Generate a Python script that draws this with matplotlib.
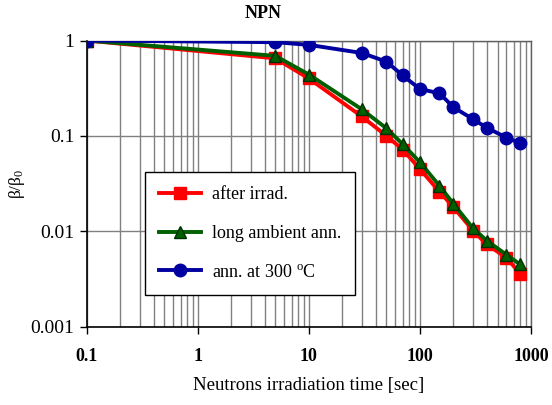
import matplotlib
matplotlib.use("Agg")
import matplotlib.pyplot as plt
from matplotlib.ticker import FixedLocator, LogLocator, NullFormatter

plt.rcParams['font.family'] = ['Liberation Serif', 'DejaVu Serif']
plt.rcParams['mathtext.fontset'] = 'custom'
plt.rcParams['mathtext.rm'] = 'Liberation Serif'
plt.rcParams['mathtext.it'] = 'Liberation Serif:italic'

time_s = [0.1, 5, 10, 30, 50, 70, 100, 150, 200, 300, 400, 600, 800]
after_irrad = [1.0, 0.65, 0.40, 0.16, 0.10, 0.072, 0.045, 0.026, 0.018, 0.0102, 0.0073, 0.0053, 0.0036]
long_ambient = [1.0, 0.69, 0.44, 0.19, 0.12, 0.082, 0.053, 0.030, 0.0195, 0.0108, 0.0080, 0.0057, 0.0045]
ann_300 = [1.0, 0.96, 0.90, 0.74, 0.60, 0.43, 0.31, 0.28, 0.20, 0.15, 0.122, 0.096, 0.084]

series_labels = ["after irrad.", "long ambient ann.", "ann. at 300 $^{\\mathrm{o}}$C"]
x_ticks = [0.1, 1, 10, 100, 1000]
x_ticklabels = ["0.1", "1", "10", "100", "1000"]
y_ticks = [0.001, 0.01, 0.1, 1]
y_ticklabels = ["0.001", "0.01", "0.1", "1"]

fig = plt.figure(figsize=(5.52, 4.05), dpi=100)
ax = fig.add_axes([0.157, 0.193, 0.805, 0.707])

ax.set_xscale('log')
ax.set_yscale('log')
ax.set_xlim(0.1, 1000)
ax.set_ylim(0.001, 1)

# grid
ax.xaxis.set_minor_locator(LogLocator(base=10, subs=range(2, 10)))
ax.xaxis.set_minor_formatter(NullFormatter())
ax.yaxis.set_minor_locator(FixedLocator([]))
ax.grid(True, which='major', axis='both', color='#808080', lw=1.0)
ax.grid(True, which='minor', axis='x', color='#808080', lw=1.0)
ax.set_axisbelow(True)

ax.plot(time_s, after_irrad, color='#FF0000', lw=2.8, marker='s', ms=8,
        mec='#FF0000', mfc='#FF0000', label=series_labels[0], zorder=3)
ax.plot(time_s, long_ambient, color='#006000', lw=2.8, marker='^', ms=9,
        mec='#003000', mfc='#006000', label=series_labels[1], zorder=4)
ax.plot(time_s, ann_300, color='#0000A0', lw=2.8, marker='o', ms=9,
        mec='#0000A0', mfc='#0000A0', label=series_labels[2], zorder=5)

ax.set_xticks(x_ticks)
ax.set_xticklabels(x_ticklabels, fontsize=13, fontweight='bold')
ax.set_yticks(y_ticks)
ax.set_yticklabels(y_ticklabels, fontsize=14)
ax.tick_params(axis='both', which='major', direction='out', length=5, width=1, color='black', pad=4)
ax.tick_params(axis='x', which='major', pad=10)
ax.tick_params(axis='x', which='minor', length=0)

for s in ['left', 'bottom']:
    ax.spines[s].set_color('black')
    ax.spines[s].set_linewidth(1.2)
for s in ['top', 'right']:
    ax.spines[s].set_color('#606060')
    ax.spines[s].set_linewidth(1.0)

ax.set_xlabel("Neutrons irradiation time [sec]", fontsize=13.5)
ax.xaxis.set_label_coords(0.5, -0.175)
ax.set_ylabel("β/β$_{\\mathrm{0}}$", fontsize=12.5)
ax.yaxis.set_label_coords(-0.135, 0.5)

fig.text(263 / 552, 1 - 14 / 405, "NPN", fontsize=13, fontweight='bold', ha='center', va='center')

leg = ax.legend(loc='upper left', bbox_to_anchor=((145 - 86.7) / 444.3, (326.7 - 172) / 286),
                fontsize=13, frameon=True, fancybox=False, edgecolor='black',
                framealpha=1, borderpad=0.8, labelspacing=1.2, handlelength=2.3,
                handletextpad=0.6, borderaxespad=0)
leg.get_frame().set_linewidth(1.0)

fig.savefig("out.png", dpi=100)
